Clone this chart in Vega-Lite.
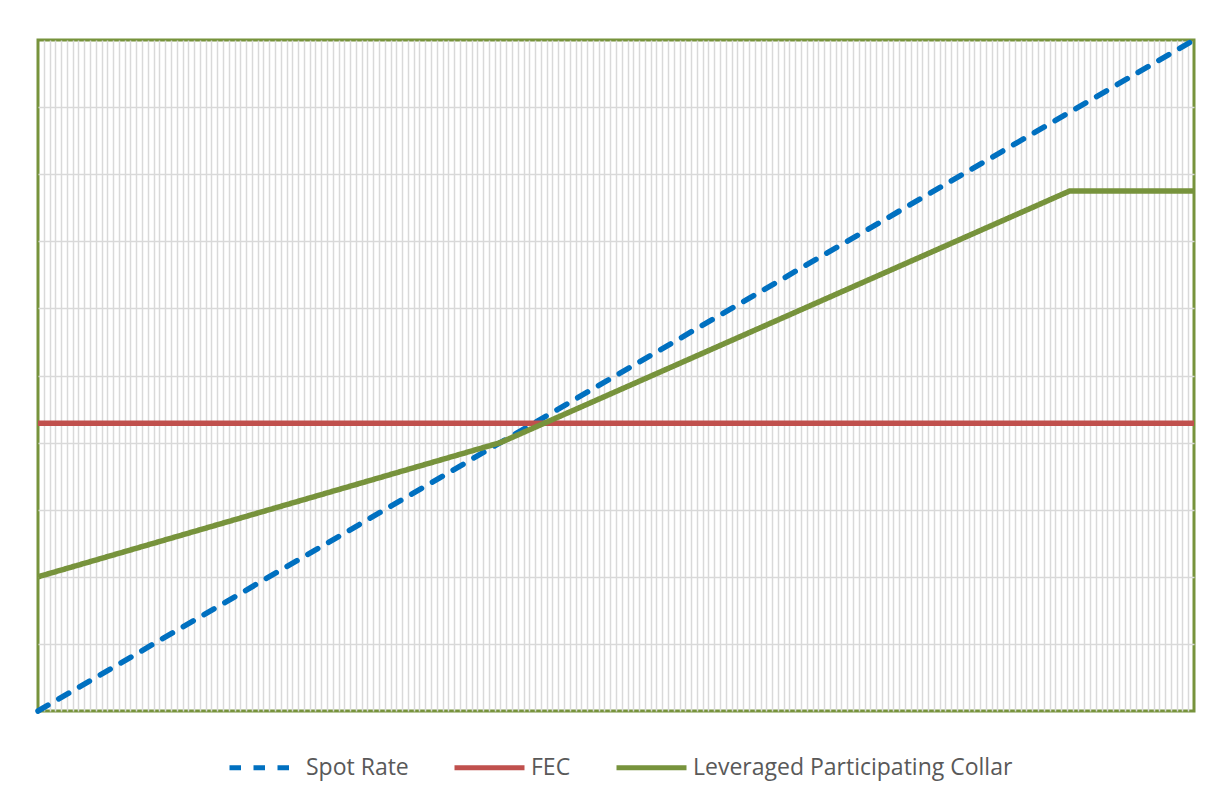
{
  "$schema": "https://vega.github.io/schema/vega-lite/v6.json",
  "width": 1156,
  "height": 671,
  "autosize": {"type": "none"},
  "padding": {"left": 38, "top": 40, "right": 17, "bottom": 87},
  "background": "white",
  "config": {
    "view": {"stroke": "#77933C", "strokeWidth": 3},
    "font": "Open Sans",
    "legend": {
      "orient": "none",
      "legendX": 189,
      "legendY": 690,
      "direction": "horizontal",
      "symbolType": "stroke",
      "symbolSize": 4900,
      "symbolStrokeWidth": 5,
      "labelFontSize": 23,
      "labelFont": "Open Sans",
      "labelColor": "#595959",
      "labelOffset": 4,
      "labelLimit": 500,
      "columnPadding": 35
    }
  },
  "data": {
    "values": [
      {"x": 0, "value": 0, "series": "Spot Rate"},
      {"x": 200, "value": 10, "series": "Spot Rate"},
      {"x": 0, "value": 4.29, "series": "FEC"},
      {"x": 200, "value": 4.29, "series": "FEC"},
      {"x": 0, "value": 2.0, "series": "Leveraged Participating Collar"},
      {"x": 80, "value": 4.0, "series": "Leveraged Participating Collar"},
      {"x": 178.5, "value": 7.75, "series": "Leveraged Participating Collar"},
      {"x": 200, "value": 7.75, "series": "Leveraged Participating Collar"}
    ]
  },
  "encoding": {
    "x": {
      "field": "x",
      "type": "quantitative",
      "scale": {"domain": [0, 200], "nice": false, "zero": false},
      "axis": {
        "title": null,
        "labels": false,
        "ticks": false,
        "domain": false,
        "tickCount": 200,
        "grid": true,
        "gridColor": {"condition": {"test": "datum.value <= 0 || datum.value >= 200", "value": "transparent"}, "value": "#D9D9D9"},
        "gridWidth": 1.5
      }
    },
    "y": {
      "field": "value",
      "type": "quantitative",
      "scale": {"domain": [0, 10], "nice": false, "zero": false},
      "axis": {
        "title": null,
        "labels": false,
        "ticks": false,
        "domain": false,
        "tickCount": 10,
        "grid": true,
        "gridColor": {"condition": {"test": "datum.value <= 0 || datum.value >= 10", "value": "transparent"}, "value": "#D9D9D9"},
        "gridWidth": 1.5
      }
    },
    "color": {
      "field": "series",
      "type": "nominal",
      "scale": {
        "domain": ["Spot Rate", "FEC", "Leveraged Participating Collar"],
        "range": ["#0070C0", "#C0504D", "#77933C"]
      },
      "legend": {"title": null}
    },
    "strokeDash": {
      "field": "series",
      "type": "nominal",
      "scale": {
        "domain": ["Spot Rate", "FEC", "Leveraged Participating Collar"],
        "range": [[11.5, 12.5], [1, 0], [1, 0]]
      },
      "legend": {"title": null}
    }
  },
  "layer": [
    {
      "transform": [{"filter": "datum.series === 'Spot Rate'"}],
      "mark": {"type": "line", "strokeWidth": 5.5, "strokeCap": "round"}
    },
    {
      "transform": [{"filter": "datum.series === 'FEC'"}],
      "mark": {"type": "line", "strokeWidth": 5.5}
    },
    {
      "transform": [{"filter": "datum.series === 'Leveraged Participating Collar'"}],
      "mark": {"type": "line", "strokeWidth": 5.5}
    }
  ]
}
